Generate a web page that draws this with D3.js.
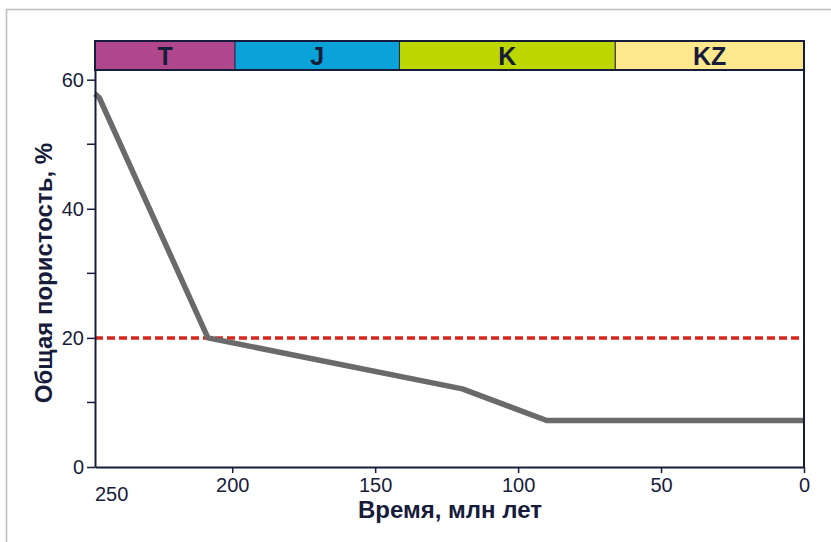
<!DOCTYPE html>
<html><head><meta charset="utf-8">
<script src="https://cdn.jsdelivr.net/npm/d3@7"></script>
<style>
html,body{margin:0;padding:0;background:#fff;}
svg{display:block;font-family:"Liberation Sans",Arial,sans-serif;}
</style></head>
<body>
<svg id="chart" width="831" height="542"></svg>
<script>
// ---- data ----
const ages = [248, 246.5, 208.5, 119.5, 90, 0];
const porosity = [57.8, 57.2, 20, 12.1, 7.2, 7.2];
const periodNames = ["T", "J", "K", "KZ"];
const periodStart = [248, 199, 141.5, 66];
const periodEnd = [199, 141.5, 66, 0];
const periodColors = ["#b0478c", "#0aa2d8", "#bdd600", "#fde88e"];
const thresholdValue = 20;
const xTickValues = [200, 150, 100, 50, 0];
const xEdgeLabel = "250";
const yTickValues = [0, 20, 40, 60];
const yMinorTicks = [10, 30, 50];
const xTitle = "Время, млн лет";
const yTitle = "Общая пористость, %";

const svg = d3.select("#chart");
const L = 95, R = 804, T = 70, B = 467, bandTop = 41;
const ink = "#171c3a";
const tickFont = 20;

const x = d3.scaleLinear().domain([248, 0]).range([L, R]);
const y = d3.scaleLinear().domain([0, 61.5]).range([B, T]);

// frame
svg.append("path").attr("d", `M6.5,542 V9.5 H831`).attr("fill", "none").attr("stroke", "#bdbdbd").attr("stroke-width", 1.5);

// period band
const band = svg.append("g");
periodNames.forEach((n, i) => {
  band.append("rect")
    .attr("x", x(periodStart[i])).attr("y", bandTop)
    .attr("width", x(periodEnd[i]) - x(periodStart[i])).attr("height", T - bandTop)
    .attr("fill", periodColors[i]).attr("stroke", "#2a2f45").attr("stroke-width", 1);
  band.append("text")
    .attr("x", (x(periodStart[i]) + x(periodEnd[i])) / 2).attr("y", (bandTop + T) / 2 + 9)
    .attr("text-anchor", "middle").attr("font-weight", "bold").attr("font-size", 25)
    .attr("fill", ink).text(n);
});
band.append("rect").attr("x", L).attr("y", bandTop).attr("width", R - L).attr("height", T - bandTop)
  .attr("fill", "none").attr("stroke", ink).attr("stroke-width", 2);

// threshold
svg.append("line").attr("x1", L).attr("x2", R).attr("y1", y(thresholdValue)).attr("y2", y(thresholdValue))
  .attr("stroke", "#d6271d").attr("stroke-width", 3.5).attr("stroke-dasharray", "8,4");

// line
const pts = ages.map((a, i) => [a, porosity[i]]);
svg.append("path").datum(pts)
  .attr("d", d3.line().x(d => x(d[0])).y(d => y(d[1])))
  .attr("fill", "none").attr("stroke", "#6a6a6a").attr("stroke-width", 5.5).attr("stroke-linejoin", "round");

// right border of plot
svg.append("line").attr("x1", R).attr("x2", R).attr("y1", T).attr("y2", B).attr("stroke", ink).attr("stroke-width", 2);

// x axis
const xa = svg.append("g").attr("transform", `translate(0,${B})`)
  .call(d3.axisBottom(x).tickValues(xTickValues).tickSize(6).tickSizeOuter(0).tickPadding(5).tickFormat(d3.format("d")));
xa.select(".domain").attr("stroke", ink).attr("stroke-width", 2);
xa.selectAll(".tick line").attr("stroke", ink).attr("stroke-width", 1.5);
xa.selectAll(".tick text").attr("font-size", tickFont).attr("fill", ink).attr("font-family", "Liberation Sans, Arial, sans-serif");
xa.append("text").attr("x", x(248)).attr("y", 34).attr("text-anchor", "start")
  .attr("font-size", tickFont).attr("fill", ink).attr("font-family", "Liberation Sans, Arial, sans-serif").text(xEdgeLabel);

// y axis
const ya = svg.append("g").attr("transform", `translate(${L},0)`)
  .call(d3.axisLeft(y).tickValues(yTickValues).tickSize(8).tickSizeOuter(0).tickPadding(3));
ya.select(".domain").attr("stroke", ink).attr("stroke-width", 2);
ya.selectAll(".tick line").attr("stroke", ink).attr("stroke-width", 1.5);
ya.selectAll(".tick text").attr("font-size", tickFont).attr("fill", ink).attr("font-family", "Liberation Sans, Arial, sans-serif");
ya.selectAll(".minor").data(yMinorTicks).join("line").attr("class", "minor")
  .attr("x1", -8).attr("x2", 0).attr("y1", d => y(d)).attr("y2", d => y(d))
  .attr("stroke", ink).attr("stroke-width", 1.5);

// titles
svg.append("text").attr("x", 450).attr("y", 518).attr("text-anchor", "middle")
  .attr("font-weight", "bold").attr("font-size", 24).attr("fill", ink).text(xTitle);
svg.append("text").attr("transform", `translate(52,273) rotate(-90)`).attr("text-anchor", "middle")
  .attr("font-weight", "bold").attr("font-size", 24).attr("fill", ink).text(yTitle);
</script>
</body></html>
